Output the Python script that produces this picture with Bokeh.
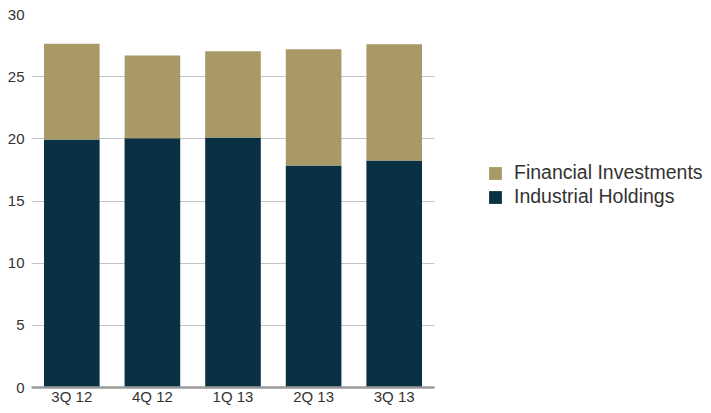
from bokeh.plotting import figure
from bokeh.models import Legend, LegendItem, ColumnDataSource, Range1d, FixedTicker
from bokeh.embed import file_html
from bokeh.resources import INLINE

quarters = ["3Q 12", "4Q 12", "1Q 13", "2Q 13", "3Q 13"]
industrial = [19.95, 20.05, 20.1, 17.85, 18.25]
financial = [7.7, 6.65, 6.95, 9.35, 9.35]
series = ["Industrial Holdings", "Financial Investments"]
colors = ["#0A3043", "#A99966"]
y_ticks = [0, 5, 10, 15, 20, 25, 30]

src = ColumnDataSource(dict(q=quarters, ind=industrial, fin=financial))

p = figure(x_range=quarters, frame_width=403, frame_height=373, output_backend="svg",
           toolbar_location=None, min_border_left=31, min_border_top=14,
           min_border_bottom=0, min_border_right=0)
p.y_range = Range1d(0, 30)
p.x_range.range_padding = 0

r = p.vbar_stack(["ind", "fin"], x="q", width=0.69, source=src, color=colors,
                 line_color=None)

p.outline_line_color = None
p.xgrid.grid_line_color = None
p.ygrid.grid_line_color = "#C4C4C4"
p.ygrid.grid_line_width = 1.2
p.yaxis.ticker = FixedTicker(ticks=y_ticks)
p.yaxis.axis_line_color = None
p.yaxis.major_tick_line_color = None
p.yaxis.minor_tick_line_color = None
p.yaxis.major_tick_out = 0
p.yaxis.minor_tick_out = 0
p.yaxis.major_label_standoff = 7
p.xaxis.axis_line_color = "#9A9A9A"
p.xaxis.axis_line_width = 2.5
p.xaxis.major_tick_line_color = None
p.xaxis.major_tick_out = 0
p.xaxis.major_label_standoff = 0
for ax in (p.xaxis, p.yaxis):
    ax.major_label_text_font = "Liberation Sans"
    ax.major_label_text_font_size = "15px"
    ax.major_label_text_color = "#333333"

legend = Legend(items=[LegendItem(label=series[1], renderers=[r[1]]),
                       LegendItem(label=series[0], renderers=[r[0]])],
                location=(53, 179))
legend.border_line_color = None
legend.background_fill_alpha = 0
legend.padding = 0
legend.margin = 0
legend.spacing = 1
legend.glyph_width = 16
legend.glyph_height = 16
legend.label_height = 16
legend.label_standoff = 11
legend.label_text_font = "Liberation Sans"
legend.label_text_font_size = "19.5px"
legend.label_text_color = "#333333"
legend.label_text_baseline = "middle"
p.add_layout(legend, "right")

open("out.html", "w").write(file_html(p, INLINE))
